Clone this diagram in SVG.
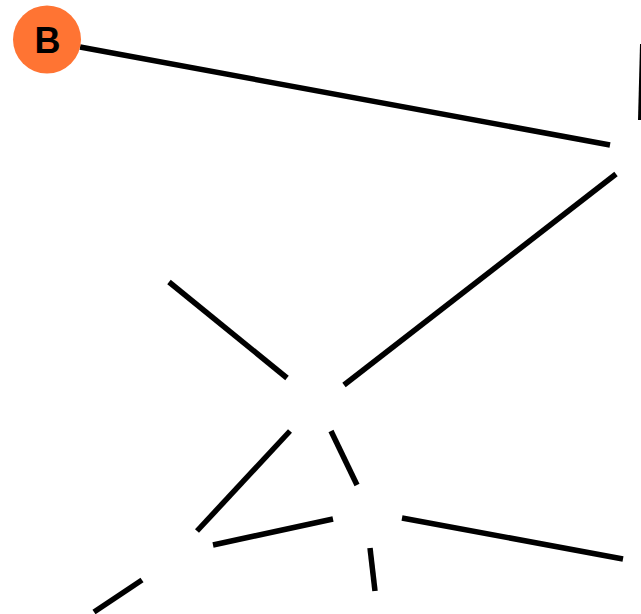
<svg xmlns="http://www.w3.org/2000/svg" width="641" height="614" viewBox="0 0 641 614">
<style>
.e{stroke:#000;stroke-width:5.5;fill:none}
.n{fill:#FF7433}
.t{font-family:"Liberation Sans",Arial,sans-serif;font-weight:bold;font-size:36px;fill:#000}
</style>
<rect width="641" height="614" fill="#fff"/>
<g id="connectors">
<line class="e" x1="80" y1="47" x2="610" y2="145"/>
<line class="e" x1="642" y1="44" x2="640" y2="120" style="stroke-width:4"/>
<line class="e" x1="616" y1="174" x2="344" y2="385"/>
<line class="e" x1="169" y1="282" x2="287" y2="378"/>
<line class="e" x1="290" y1="431" x2="197" y2="531"/>
<line class="e" x1="331" y1="431" x2="357" y2="485"/>
<line class="e" x1="213" y1="545" x2="333" y2="519"/>
<line class="e" x1="402" y1="518" x2="623" y2="559"/>
<line class="e" x1="370" y1="548" x2="375" y2="591"/>
<line class="e" x1="142" y1="580" x2="94" y2="612"/>
</g>
<g id="node-B">
<circle class="n" cx="47" cy="39.5" r="34"/>
<text class="t" x="47.5" y="52.5" text-anchor="middle">B</text>
</g>
</svg>
